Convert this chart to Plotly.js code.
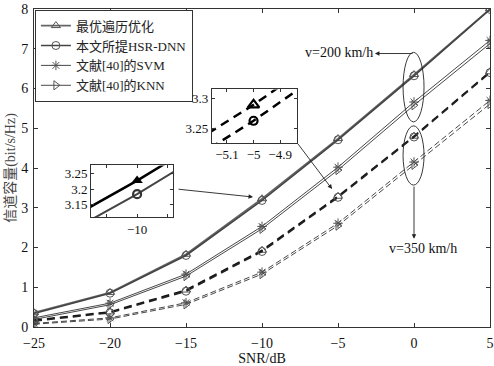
<!DOCTYPE html>
<html><head><meta charset="utf-8">
<script src="https://cdn.plot.ly/plotly-3.0.1.min.js"></script>
<style>body{margin:0;background:#fff}#c{width:494px;height:366px}</style>
</head><body><div id="c"></div>
<script>
const snr = [-25, -20, -15, -10, -5, 0, 5];
const names = ['最优遍历优化', '本文所提HSR-DNN', '文献[40]的SVM', '文献[40]的KNN'];
// v = 200 km/h
const opt200 = [0.36, 0.87, 1.83, 3.228, 4.74, 6.35, 8.00];
const dnn200 = [0.34, 0.85, 1.80, 3.184, 4.71, 6.32, 7.99];
const svm200 = [0.23, 0.60, 1.33, 2.53, 4.02, 5.66, 7.21];
const knn200 = [0.19, 0.56, 1.28, 2.47, 3.95, 5.58, 7.13];
// v = 350 km/h
const opt350 = [0.17, 0.38, 0.93, 1.93, 3.289, 4.80, 6.42];
const dnn350 = [0.15, 0.36, 0.90, 1.90, 3.263, 4.78, 6.40];
const svm350 = [0.09, 0.23, 0.61, 1.38, 2.61, 4.15, 5.70];
const knn350 = [0.07, 0.20, 0.57, 1.33, 2.55, 4.08, 5.61];
const xTicks = [-25, -20, -15, -10, -5, 0, 5];
const yTicks = [0, 1, 2, 3, 4, 5, 6, 7, 8];

const F = 'Liberation Serif, Times New Roman, Noto Sans CJK SC, serif';
const symbols = ['triangle-up-open', 'circle-open', 'asterisk-open', 'triangle-right-open'];
const lineCol = ['#666', '#444', '#333', '#333'];
const lineW = [1.6, 1.6, 0.9, 0.9];
const lineW350 = [1.7, 1.7, 0.9, 0.9];
const col350 = ['#111', '#222', '#333', '#333'];

const d200 = [opt200, dnn200, svm200, knn200];
const d350 = [opt350, dnn350, svm350, knn350];
const traces = [];
d200.forEach((y, i) => traces.push({
  x: snr, y: y, type: 'scatter', mode: 'lines+markers', name: names[i], legendgroup: 'g' + i,
  line: {color: lineCol[i], width: lineW[i]},
  marker: {symbol: symbols[i], size: 8, color: '#555', line: {color: '#555', width: 1}}
}));
d350.forEach((y, i) => traces.push({
  x: snr, y: y, type: 'scatter', mode: 'lines+markers', name: names[i], legendgroup: 'g' + i, showlegend: false,
  line: {color: col350[i], width: lineW350[i], dash: i < 2 ? '8px,5px' : '6px,3px'},
  marker: {symbol: symbols[i], size: 8, color: '#555', line: {color: '#555', width: 1}}
}));
// inset 1: v=200, around -10 dB
traces.push({x: snr, y: opt200, xaxis: 'x2', yaxis: 'y2', type: 'scatter', mode: 'lines+markers', showlegend: false,
  line: {color: '#000', width: 2.5}, marker: {symbol: 'triangle-up', size: 10, color: '#000'}});
traces.push({x: snr, y: dnn200, xaxis: 'x2', yaxis: 'y2', type: 'scatter', mode: 'lines+markers', showlegend: false,
  line: {color: '#444', width: 2}, marker: {symbol: 'circle-open', size: 8, color: '#333', line: {width: 2.2}}});
// inset 2: v=350, around -5 dB
traces.push({x: snr, y: opt350, xaxis: 'x3', yaxis: 'y3', type: 'scatter', mode: 'lines+markers', showlegend: false,
  line: {color: '#000', width: 2.5, dash: '9px,6px'}, marker: {symbol: 'triangle-up-open', size: 10, color: '#000', line: {width: 2.2}}});
traces.push({x: snr, y: dnn350, xaxis: 'x3', yaxis: 'y3', type: 'scatter', mode: 'lines+markers', showlegend: false,
  line: {color: '#000', width: 2.5, dash: '9px,6px'}, marker: {symbol: 'circle-open', size: 8, color: '#000', line: {width: 2.2}}});

const axBase = {showgrid: false, zeroline: false, showline: true, linecolor: '#333', linewidth: 1, mirror: 'ticks',
  ticks: 'inside', ticklen: 4, tickcolor: '#333', tickfont: {family: F, size: 14, color: '#111'}};
const insetAx = Object.assign({}, axBase, {ticklen: 3, tickfont: {family: F, size: 13, color: '#111'}});

const ann = (x, y, ax, ay) => ({x: x, y: y, ax: ax, ay: ay, xref: 'x', yref: 'y', axref: 'x', ayref: 'y',
  text: '', showarrow: true, arrowhead: 2, arrowsize: 1, arrowwidth: 0.9, arrowcolor: '#222', standoff: 0});

const layout = {
  width: 494, height: 366, paper_bgcolor: '#fff', plot_bgcolor: '#fff',
  margin: {l: 34, r: 4, t: 9, b: 39},
  font: {family: F, color: '#111'},
  xaxis: Object.assign({}, axBase, {range: [-25, 5], tickvals: xTicks, ticktext: xTicks.map(v => v < 0 ? '\u2212' + (-v) : String(v)),
    ticklabelstandoff: 3,
    title: {text: 'SNR/dB', font: {family: F, size: 14}, standoff: 4}}),
  yaxis: Object.assign({}, axBase, {range: [0, 8], tickvals: yTicks, ticklabelstandoff: 2,
    title: {text: '信道容量(bit/s/Hz)', font: {family: F, size: 14, color: '#444'}, standoff: 2}}),
  xaxis2: Object.assign({}, insetAx, {domain: [0.125, 0.305], anchor: 'y2', range: [-10.3, -9.766],
    tickvals: [-10.2, -10, -9.8], ticktext: ['', '\u221210', '']}),
  yaxis2: Object.assign({}, insetAx, {domain: [0.346, 0.508], anchor: 'x2', range: [3.11, 3.277],
    tickvals: [3.15, 3.2, 3.25], ticktext: ['3.15', '3.2', '3.25']}),
  xaxis3: Object.assign({}, insetAx, {domain: [0.390, 0.577], anchor: 'y3', range: [-5.157, -4.836],
    tickvals: [-5.1, -5, -4.9], ticktext: ['\u22125.1', '\u22125', '\u22124.9']}),
  yaxis3: Object.assign({}, insetAx, {domain: [0.579, 0.747], anchor: 'x3', range: [3.227, 3.314],
    tickvals: [3.25, 3.3], ticktext: ['3.25', '3.3']}),
  legend: {x: 0.002, y: 0.998, xanchor: 'left', yanchor: 'top', bgcolor: '#fff', bordercolor: '#333', borderwidth: 1,
    font: {family: F, size: 13, color: '#222'}, tracegroupgap: 0, itemwidth: 30},
  shapes: [
    {type: 'circle', xref: 'x', yref: 'y', x0: -0.72, x1: 0.66, y0: 5.16, y1: 6.91, line: {color: '#222', width: 0.9}},
    {type: 'circle', xref: 'x', yref: 'y', x0: -0.72, x1: 0.66, y0: 3.57, y1: 5.06, line: {color: '#222', width: 0.9}}
  ],
  annotations: [
    ann(-10.59, 3.27, -15.59, 3.47),
    ann(-5.39, 3.47, -7.70, 4.64),
    ann(-2.57, 6.88, 0, 6.88),
    ann(0, 2.22, 0, 3.57),
    {x: -4.95, y: 6.91, xref: 'x', yref: 'y', text: 'v=200 km/h', showarrow: false, font: {family: F, size: 14, color: '#111'}},
    {x: 0.59, y: 1.97, xref: 'x', yref: 'y', text: 'v=350 km/h', showarrow: false, font: {family: F, size: 14, color: '#111'}}
  ]
};
Plotly.newPlot('c', traces, layout, {displayModeBar: false, staticPlot: true});
</script></body></html>
